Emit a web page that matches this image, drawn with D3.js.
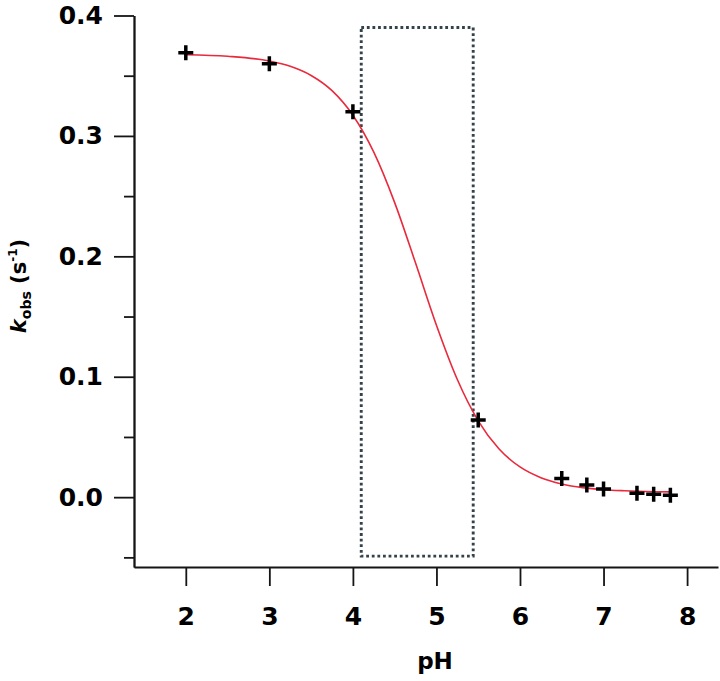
<!DOCTYPE html>
<html>
<head>
<meta charset="utf-8">
<script src="https://cdnjs.cloudflare.com/ajax/libs/d3/7.8.5/d3.min.js"></script>
<style>
	html, body {
		margin: 0;
		padding: 0;
		background: #fff;
	}
	svg text {
		font-family: "DejaVu Sans", sans-serif;
		font-weight: bold;
	}
</style>
</head>
<body>
<svg id="chart" width="720" height="681"></svg>
<script>
// measured points
var pH = [2, 3, 4, 5.5, 6.5, 6.8, 7.0, 7.4, 7.6, 7.8];
var kobs = [0.369, 0.360, 0.320, 0.064, 0.0155, 0.010, 0.0067, 0.0033, 0.0025, 0.0016];

// fitted curve
var fitPH = [2.0, 2.5, 3.0, 3.25, 3.5, 3.75, 4.0, 4.25, 4.5, 4.75, 5.0, 5.25, 5.5, 5.75, 6.0, 6.25, 6.5, 6.75, 7.0, 7.25, 7.5, 7.8];
var fitK = [0.3674, 0.3661, 0.3622, 0.3578, 0.3502, 0.3376, 0.3172, 0.2865, 0.2446, 0.1944, 0.1428, 0.0977, 0.0634, 0.0400, 0.0251, 0.0162, 0.0110, 0.0079, 0.0062, 0.0053, 0.0047, 0.0044];

// dotted box: pH range and kobs range
var boxPH = [4.1, 5.44];
var boxK = [-0.049, 0.39];

var xTicks = [2, 3, 4, 5, 6, 7, 8];
var yTicks = [0.0, 0.1, 0.2, 0.3, 0.4];
var yMinor = [-0.05, 0.05, 0.15, 0.25, 0.35];

var svg = d3.select("#chart");

var x = d3.scaleLinear()
	.domain([1.38, 8.37])
	.range([134, 718]);

var y = d3.scaleLinear()
	.domain([-0.058, 0.4])
	.range([567, 15.5]);

// axes
var gx = svg.append("g")
	.attr("transform", "translate(0,567)")
	.call(d3.axisBottom(x)
		.tickValues(xTicks)
		.tickFormat(d3.format("d"))
		.tickSizeInner(19)
		.tickSizeOuter(0)
		.tickPadding(21));

var gyMinor = svg.append("g")
	.attr("transform", "translate(134,0)")
	.call(d3.axisLeft(y)
		.tickValues(yMinor)
		.tickFormat("")
		.tickSizeInner(10)
		.tickSizeOuter(0));

var gy = svg.append("g")
	.attr("transform", "translate(134,0)")
	.call(d3.axisLeft(y)
		.tickValues(yTicks)
		.tickFormat(d3.format(".1f"))
		.tickSizeInner(20)
		.tickSizeOuter(0)
		.tickPadding(11));

[gx, gy, gyMinor].forEach(function (g) {
	g.selectAll("path, line")
		.style("stroke", "#151515")
		.style("stroke-width", 1.8);
	g.selectAll("text")
		.style("font-size", "25px")
		.style("fill", "#000");
});

// dotted box
svg.append("rect")
	.attr("x", x(boxPH[0]))
	.attr("y", y(boxK[1]))
	.attr("width", x(boxPH[1]) - x(boxPH[0]))
	.attr("height", y(boxK[0]) - y(boxK[1]))
	.style("fill", "none")
	.style("stroke", "#34424a")
	.style("stroke-width", 2.9)
	.style("stroke-dasharray", "2.8,2.8");

// fit line
var line = d3.line()
	.x(function (d) { return x(d[0]); })
	.y(function (d) { return y(d[1]); })
	.curve(d3.curveMonotoneX);

svg.append("path")
	.datum(fitPH.map(function (p, i) { return [p, fitK[i]]; }))
	.attr("d", line)
	.style("fill", "none")
	.style("stroke", "#e82a3c")
	.style("stroke-width", 1.6);

// plus markers
var arm = 7.5;
svg.append("g")
	.selectAll("path")
	.data(pH.map(function (p, i) { return [p, kobs[i]]; }))
	.enter()
	.append("path")
	.attr("transform", function (d) {
		return "translate(" + x(d[0]) + "," + y(d[1]) + ")";
	})
	.attr("d", "M" + (-arm) + ",0H" + arm + "M0," + (-arm) + "V" + arm)
	.style("stroke", "#000")
	.style("stroke-width", 3.5)
	.style("fill", "none");

// axis titles
svg.append("text")
	.attr("x", 435)
	.attr("y", 669)
	.attr("text-anchor", "middle")
	.style("font-size", "23px")
	.text("pH");

var yl = svg.append("text")
	.attr("transform", "translate(26,286) rotate(-90)")
	.attr("text-anchor", "middle")
	.style("font-size", "21px");
yl.append("tspan").style("font-style", "italic").text("k");
yl.append("tspan").attr("dy", 5).style("font-size", "14px").text("obs");
yl.append("tspan").attr("dy", -5).text(" (s");
yl.append("tspan").attr("dy", -9).style("font-size", "12px").text("-1");
yl.append("tspan").attr("dy", 9).text(")");
</script>
</body>
</html>
